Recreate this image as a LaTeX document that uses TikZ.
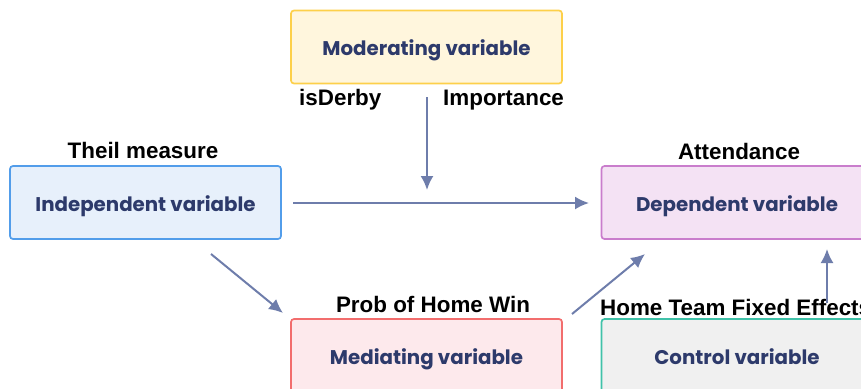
\documentclass[tikz,border=0pt]{standalone}
\usepackage{fontspec}
\setmainfont{Liberation Sans}
\newfontfamily\boxfont{Poppins}
\usetikzlibrary{arrows.meta,positioning}
\definecolor{modFill}{HTML}{FFF6DD}
\definecolor{modLine}{HTML}{FDD04A}
\definecolor{indFill}{HTML}{E7F0FB}
\definecolor{indLine}{HTML}{529DEA}
\definecolor{depFill}{HTML}{F4E2F4}
\definecolor{depLine}{HTML}{C97DCC}
\definecolor{medFill}{HTML}{FDE9EC}
\definecolor{medLine}{HTML}{F26D6D}
\definecolor{ctlFill}{HTML}{F0F0F0}
\definecolor{ctlLine}{HTML}{40C2A9}
\definecolor{varText}{HTML}{2D3A6B}
\definecolor{linkCol}{HTML}{6E7DAB}

\begin{document}
\begin{tikzpicture}[x=1pt, y=-1pt,
    var/.style={draw, rounded corners=3pt, line width=1.7pt,
      minimum width=271pt, minimum height=73pt, inner sep=0pt,
      text height=17pt, text depth=0pt,
      text=varText, font=\boxfont\bfseries\fontsize{19.8}{22}\selectfont},
    lbl/.style={inner sep=0pt, font=\bfseries\fontsize{22.4}{26}\selectfont},
    link/.style={-{Latex[length=14pt,width=13pt]}, line width=2pt, linkCol}]
  \useasboundingbox (0,0) rectangle (861,388);
  % Variable boxes
  \node[var, fill=modFill, draw=modLine] (mod) at (426.5,47) {Moderating variable};
  \node[var, fill=indFill, draw=indLine] (ind) at (145.5,202.5) {Independent variable};
  \node[var, fill=depFill, draw=depLine] (dep) at (737,202.5) {Dependent variable};
  \node[var, fill=medFill, draw=medLine] (med) at (426.5,355.5) {Mediating variable};
  \node[var, fill=ctlFill, draw=ctlLine] (ctl) at (737,355.5) {Control variable};
  % Measures
  \node[lbl, anchor=base] (theil) at (143,158) {Theil measure};
  \node[lbl, anchor=base west] (derby) at (299,105) {isDerby};
  \node[lbl, anchor=base west] (imp) at (443,105) {Importance};
  \node[lbl, anchor=base] (att) at (739,159) {Attendance};
  \node[lbl, anchor=base] (prob) at (433,312) {Prob of Home Win};
  \node[lbl, anchor=base west] (fixed) at (600,315) {Home Team Fixed Effects};
  % Arrow ends
  \coordinate (modEnd) at (427,97);
  \coordinate (modTip) at (427,190);
  \coordinate (indEnd) at (293,203);
  \coordinate (depTip) at (589,203);
  \coordinate (indLow) at (211,254);
  \coordinate (medTip) at (283,313);
  \coordinate (medEnd) at (572,314);
  \coordinate (depLow) at (645,254);
  \coordinate (ctlEnd) at (827,303);
  \coordinate (depLowR) at (827,249);
  % Arrows
  \draw[link] (modEnd) -- (modTip);
  \draw[link] (indEnd) -- (depTip);
  \draw[link] (indLow) -- (medTip);
  \draw[link] (medEnd) -- (depLow);
  \draw[link] (ctlEnd) -- (depLowR);
\end{tikzpicture}
\end{document}
